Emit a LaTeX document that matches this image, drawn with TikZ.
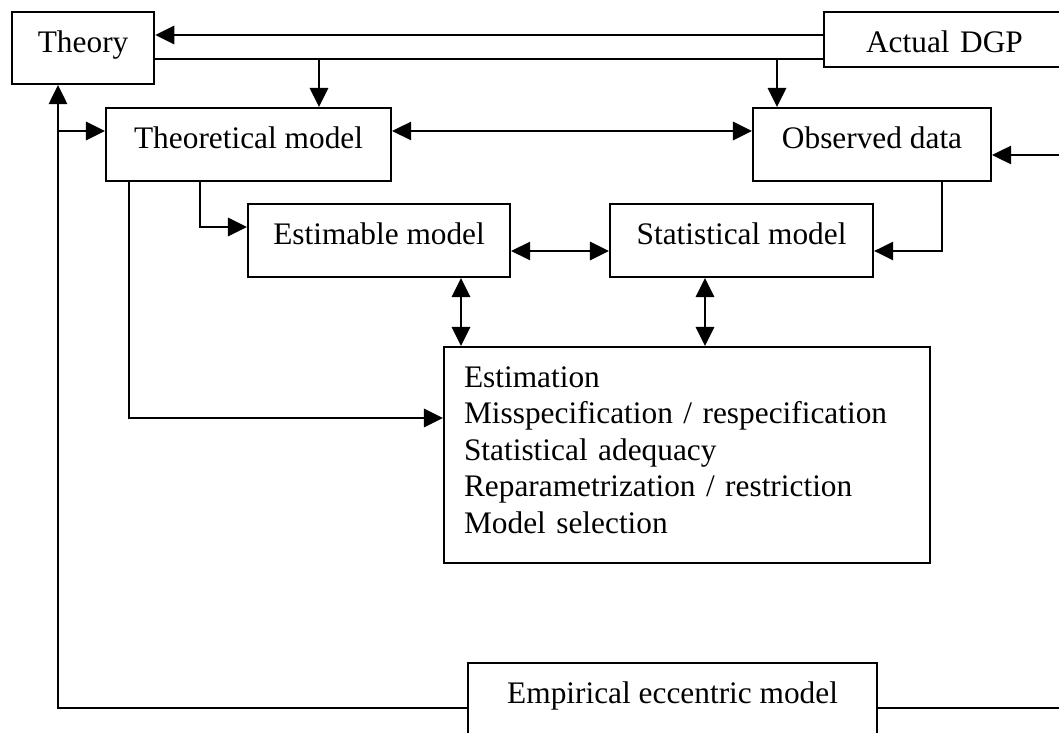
\documentclass[tikz,border=0pt]{standalone}
\usepackage{fontspec}
\setmainfont{Liberation Serif}
\usepackage{tikz}
\usetikzlibrary{positioning,arrows.meta}

\begin{document}
\begin{tikzpicture}[x=0.3828pt, y=-0.3828pt, thick, font=\fontsize{12}{14}\selectfont,
  box/.style={draw, anchor=north west, inner ysep=0pt, text height=15.3pt},
  arr/.style={-{Triangle[length=7.3pt,width=7pt]}},
  dbl/.style={{Triangle[length=7.3pt,width=7pt]}-{Triangle[length=7.3pt,width=7pt]}}]
\clip (0,0) rectangle (1059,733);

\node [box, minimum width=54.4pt, text depth=12.25pt] (theory) at (11,11) {Theory};
\node [box, text width=88pt, inner xsep=16.1pt, align=left, text depth=5.75pt] (dgp) at (823,11) {Actual DGP};
\node [box, minimum width=109.1pt, text depth=12.6pt] (theo) at (105,107) {Theoretical model};
\node [box, minimum width=91.1pt, text depth=12.6pt] (obs) at (752,107) {Observed data};
\node [box, minimum width=100.3pt, text depth=12.6pt] (estim) at (247,203) {Estimable model};
\node [box, minimum width=100.7pt, text depth=12.6pt] (stat) at (609,203) {Statistical model};
\node [box, text width=170.7pt, inner xsep=7.66pt, align=left, text depth=67.4pt] (est) at (443,346) {Estimation\\ Misspecification / respecification\\ Statistical adequacy\\ Reparametrization / restriction\\ Model selection};
\node [box, minimum width=156.6pt, text depth=19.15pt] (emp) at (467,662) {Empirical eccentric model};

\coordinate (hi) at (0,35);
\coordinate (lo) at (0,59);
\coordinate (a1) at (319,59);
\coordinate (a2) at (777,59);
\coordinate (mid) at (58,131);
\coordinate (rt) at (1090,155);
\coordinate (b2) at (200,227);
\coordinate (b1) at (129,418);
\coordinate (sm) at (942,251);
\coordinate (v1) at (461,0);
\coordinate (v2) at (705,0);
\coordinate (lf) at (58,707);

\draw[arr] (dgp.west |- hi) -- (theory.east |- hi);
\draw (theory.east |- lo) -- (dgp.west |- lo);
\draw[arr] (a1) -- (a1 |- theo.north);
\draw[arr] (a2) -- (a2 |- obs.north);
\draw[dbl] (theo.east |- mid) -- (obs.west |- mid);
\draw[arr] (emp.east) -| (rt) -- (obs.east |- rt);
\draw[arr] (emp.west) -| (theory.south -| lf);
\draw[arr] (mid) -- (theo.west |- mid);
\draw[arr] (theo.south -| b2) |- (estim.west |- b2);
\draw[arr] (theo.south -| b1) |- (est.west |- b1);
\draw[dbl] (estim.east |- sm) -- (stat.west |- sm);
\draw[arr] (obs.south -| sm) |- (stat.east |- sm);
\draw[dbl] (estim.south -| v1) -- (est.north -| v1);
\draw[dbl] (stat.south -| v2) -- (est.north -| v2);
\end{tikzpicture}
\end{document}
